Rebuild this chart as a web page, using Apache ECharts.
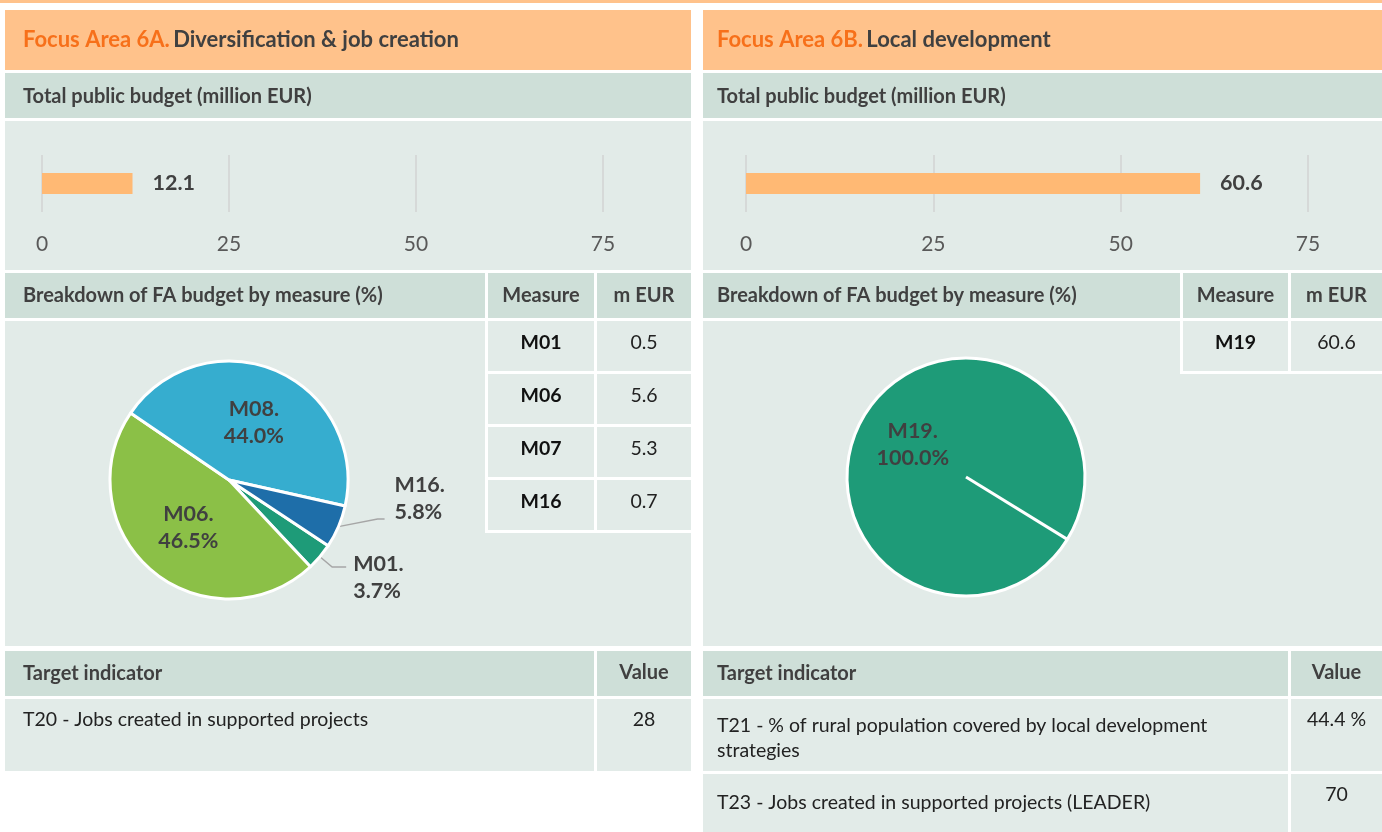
<!DOCTYPE html>
<html>
<head>
<meta charset="utf-8">
<script src="https://cdn.jsdelivr.net/npm/echarts@6/dist/echarts.min.js"></script>
<style>
  html, body { margin: 0; padding: 0; background: #fff; }
  #Echarts_Div { width: 1382px; height: 832px; }
</style>
</head>
<body>
<div id="Echarts_Div"></div>
<script>
// values
var titlesA = ['Focus Area 6A.', 'Diversification & job creation'];
var titlesB = ['Focus Area 6B.', 'Local development'];
var budgetA = [12.1];
var budgetB = [60.6];
var budgetTicks = [0, 25, 50, 75];
var measuresA = ['M01', 'M06', 'M07', 'M16'];
var meurA = ['0.5', '5.6', '5.3', '0.7'];
var measuresB = ['M19'];
var meurB = ['60.6'];
var pieNamesA = ['M01', 'M06', 'M08', 'M16'];
var pieSharesA = [3.7, 46.5, 44.0, 5.8];
var pieNamesB = ['M19'];
var pieSharesB = [100.0];
var targetsA = ['T20 - Jobs created in supported projects'];
var targetValuesA = ['28'];
var targetsB = ['T21 - % of rural population covered by local development\nstrategies', 'T23 - Jobs created in supported projects (LEADER)'];
var targetValuesB = ['44.4 %', '70'];

var FONT = 'Lato, "Open Sans", sans-serif';
var C_HEAD = '#FFC28B', C_MID = '#CEDFD8', C_LIGHT = '#E2EBE8', C_TXT = '#404040';
var pieColors = { M01: '#1E9B78', M06: '#8BC047', M08: '#36ADCF', M16: '#1E6EA9', M19: '#1E9B78' };

function rect(x, y, w, h, fill) {
    return { type: 'rect', silent: true, shape: { x: x, y: y, width: w, height: h }, style: { fill: fill } };
}
function txt(x, y, s, opt) {
    opt = opt || {};
    return {
        type: 'text', silent: true, z: 10,
        style: {
            x: x, y: y, text: s,
            fill: opt.color || C_TXT,
            font: (opt.weight || 'normal') + ' ' + (opt.size || 19.5) + 'px ' + FONT,
            textAlign: opt.align || 'left', align: opt.align || 'left',
            textVerticalAlign: opt.va || 'middle', verticalAlign: opt.va || 'middle',
            lineHeight: opt.lh || 25
        }
    };
}

function panel(p) {
    var g = [];
    var x0 = p.x0, x1 = p.x1, ind = p.indent;
    // header
    g.push(rect(x0, 10, x1 - x0, 60, C_HEAD));
    g.push({
        type: 'text', silent: true, z: 10,
        style: {
            x: x0 + ind, y: 40, text: '{a|' + p.title[0] + '} {b|' + p.title[1] + '}',
            textVerticalAlign: 'middle', verticalAlign: 'middle',
            rich: {
                a: { fill: '#F7701A', font: 'bold 22px ' + FONT },
                b: { fill: C_TXT, font: 'bold 22px ' + FONT }
            }
        }
    });
    g.push(rect(x0, 73, x1 - x0, 45, C_MID));
    g.push(txt(x0 + ind, 97, 'Total public budget (million EUR)', { weight: 'bold', size: 20 }));
    g.push(rect(x0, 121, x1 - x0, 149, C_LIGHT));
    // breakdown header
    g.push(rect(x0, 273, p.c1 - x0, 45, C_MID));
    g.push(rect(p.c1 + 3, 273, p.c2 - p.c1 - 3, 45, C_MID));
    g.push(rect(p.c2 + 3, 273, x1 - p.c2 - 3, 45, C_MID));
    g.push(txt(x0 + ind, 296, 'Breakdown of FA budget by measure (%)', { weight: 'bold', size: 20 }));
    g.push(txt((p.c1 + 3 + p.c2) / 2, 296, 'Measure', { weight: 'bold', size: 20, align: 'center' }));
    g.push(txt((p.c2 + 3 + x1) / 2, 296, 'm EUR', { weight: 'bold', size: 20, align: 'center' }));
    // body
    g.push(rect(x0, 321, x1 - x0, 325, C_LIGHT));
    var n = p.measures.length;
    g.push(rect(p.c1, 318, x1 - p.c1, n * 53 + 3, '#fff'));
    for (var i = 0; i < n; i++) {
        var ry = 321 + i * 53;
        g.push(rect(p.c1 + 3, ry, p.c2 - p.c1 - 3, 50, C_LIGHT));
        g.push(rect(p.c2 + 3, ry, x1 - p.c2 - 3, 50, C_LIGHT));
        g.push(txt((p.c1 + 3 + p.c2) / 2, ry + 22, p.measures[i], { weight: 'bold', size: 19.5, align: 'center', color: '#111' }));
        g.push(txt((p.c2 + 3 + x1) / 2, ry + 22, p.meur[i], { size: 19.5, align: 'center', color: '#222' }));
    }
    // target indicators
    g.push(rect(x0, 651, p.c2 - x0, 45, C_MID));
    g.push(rect(p.c2 + 3, 651, x1 - p.c2 - 3, 45, C_MID));
    g.push(txt(x0 + ind, 674, 'Target indicator', { weight: 'bold', size: 20 }));
    g.push(txt((p.c2 + 3 + x1) / 2, 673, 'Value', { weight: 'bold', size: 20, align: 'center' }));
    var ty = 699;
    for (var j = 0; j < p.targets.length; j++) {
        var h = p.rowH[j];
        g.push(rect(x0, ty, p.c2 - x0, h, C_LIGHT));
        g.push(rect(p.c2 + 3, ty, x1 - p.c2 - 3, h, C_LIGHT));
        g.push(txt(x0 + ind, ty + p.textOff[j], p.targets[j], { size: 19.5, va: 'top', color: '#222' }));
        g.push(txt((p.c2 + 3 + x1) / 2, ty + 21, p.tvals[j], { size: 19.5, align: 'center', color: '#222' }));
        ty += h + 3;
    }
    return g;
}

var graphics = [rect(0, 0, 1382, 3, C_HEAD)];
graphics = graphics.concat(panel({
    x0: 5, x1: 691, indent: 18, c1: 485, c2: 594, title: titlesA,
    measures: measuresA, meur: meurA, targets: targetsA, tvals: targetValuesA,
    rowH: [72], textOff: [8]
}));
graphics = graphics.concat(panel({
    x0: 703, x1: 1382, indent: 14, c1: 1180, c2: 1288, title: titlesB,
    measures: measuresB, meur: meurB, targets: targetsB, tvals: targetValuesB,
    rowH: [72, 60], textOff: [14, 16]
}));

// white slice border of the single 100% slice
var pieB = { cx: 966, cy: 477, r: 119, start: -31.6 };
var a = pieB.start * Math.PI / 180;
graphics.push({
    type: 'line', silent: true, z: 100,
    shape: { x1: pieB.cx, y1: pieB.cy, x2: pieB.cx + pieB.r * Math.cos(a), y2: pieB.cy - pieB.r * Math.sin(a) },
    style: { stroke: '#fff', lineWidth: 3 }
});

// outside-label tweaks: slice name -> line lengths and label shift
var outsideA = {
    M16: { len: 24, len2: 14, dx: 15, dy: -37, hook: true },
    M01: { len: 16, len2: 14, dx: 2, dy: 10 }
};

function pieData(names, shares, outside) {
    return names.map(function (n, i) {
        var d = { name: n, value: shares[i], itemStyle: { color: pieColors[n] } };
        if (outside[n]) {
            d.label = { position: 'outside' };
            d.labelLine = { show: true, length: outside[n].len, length2: outside[n].len2 };
        }
        return d;
    });
}
function pieLabel() {
    return {
        position: 'inside',
        formatter: function (p) { return p.name + '.\n' + p.value.toFixed(1) + '%'; },
        color: C_TXT, fontFamily: FONT, fontWeight: 'bold', fontSize: 21.5, lineHeight: 27
    };
}

function budgetAxes(left) {
    return {
        x: {
            type: 'value', gridIndex: left, min: 0, max: 75, interval: 25,
            axisLine: { show: false }, axisTick: { show: false },
            splitLine: { show: true, lineStyle: { color: '#D6D9D8', width: 2 } },
            axisLabel: {
                margin: 22, color: '#595959', fontSize: 21, fontFamily: FONT,
                formatter: function (v) { return budgetTicks.indexOf(v) >= 0 ? String(v) : ''; }
            }
        },
        y: {
            type: 'category', gridIndex: left, data: ['budget'],
            axisLine: { show: false }, axisTick: { show: false }, axisLabel: { show: false }, splitLine: { show: false }
        }
    };
}
var axA = budgetAxes(0), axB = budgetAxes(1);
var barLabel = { show: true, position: 'right', distance: 20, color: C_TXT, fontFamily: FONT, fontWeight: 'bold', fontSize: 21.5 };

var option = {
    animation: false,
    backgroundColor: '#fff',
    graphic: { elements: graphics },
    grid: [
        { left: 42, width: 561, top: 155, height: 57 },
        { left: 746, width: 562, top: 155, height: 57 }
    ],
    xAxis: [axA.x, axB.x],
    yAxis: [axA.y, axB.y],
    series: [
        {
            type: 'bar', xAxisIndex: 0, yAxisIndex: 0, data: budgetA, barWidth: 21,
            itemStyle: { color: '#FFB974' }, z: 5, label: barLabel
        },
        {
            type: 'bar', xAxisIndex: 1, yAxisIndex: 1, data: budgetB, barWidth: 21,
            itemStyle: { color: '#FFB974' }, z: 5, label: barLabel
        },
        {
            type: 'pie', center: [229, 480], radius: 119, startAngle: -33.5, clockwise: true,
            data: pieData(pieNamesA, pieSharesA, outsideA),
            itemStyle: { borderColor: '#fff', borderWidth: 3 },
            label: pieLabel(),
            labelLine: { show: false, lineStyle: { color: '#A6A6A6', width: 1.5 } },
            labelLayout: function (p) {
                var o = outsideA[pieNamesA[p.dataIndex]];
                if (!o) return {};
                var res = { dx: o.dx, dy: o.dy };
                if (o.hook && p.labelLinePoints && p.labelRect) {
                    var r = p.labelRect;
                    var ex = r.x + o.dx - 10, ey = r.y + o.dy + r.height - 7;
                    res.labelLinePoints = [p.labelLinePoints[0], [ex - 7, ey], [ex, ey]];
                }
                return res;
            },
            avoidLabelOverlap: false,
            z: 20
        },
        {
            type: 'pie', center: [pieB.cx, pieB.cy], radius: pieB.r, startAngle: pieB.start, clockwise: true,
            data: pieData(pieNamesB, pieSharesB, {}),
            itemStyle: { borderColor: '#fff', borderWidth: 3 },
            label: pieLabel(),
            labelLine: { show: false },
            z: 20
        }
    ]
};

var myChart = echarts.init(document.getElementById('Echarts_Div'));
myChart.setOption(option);
</script>
</body>
</html>
